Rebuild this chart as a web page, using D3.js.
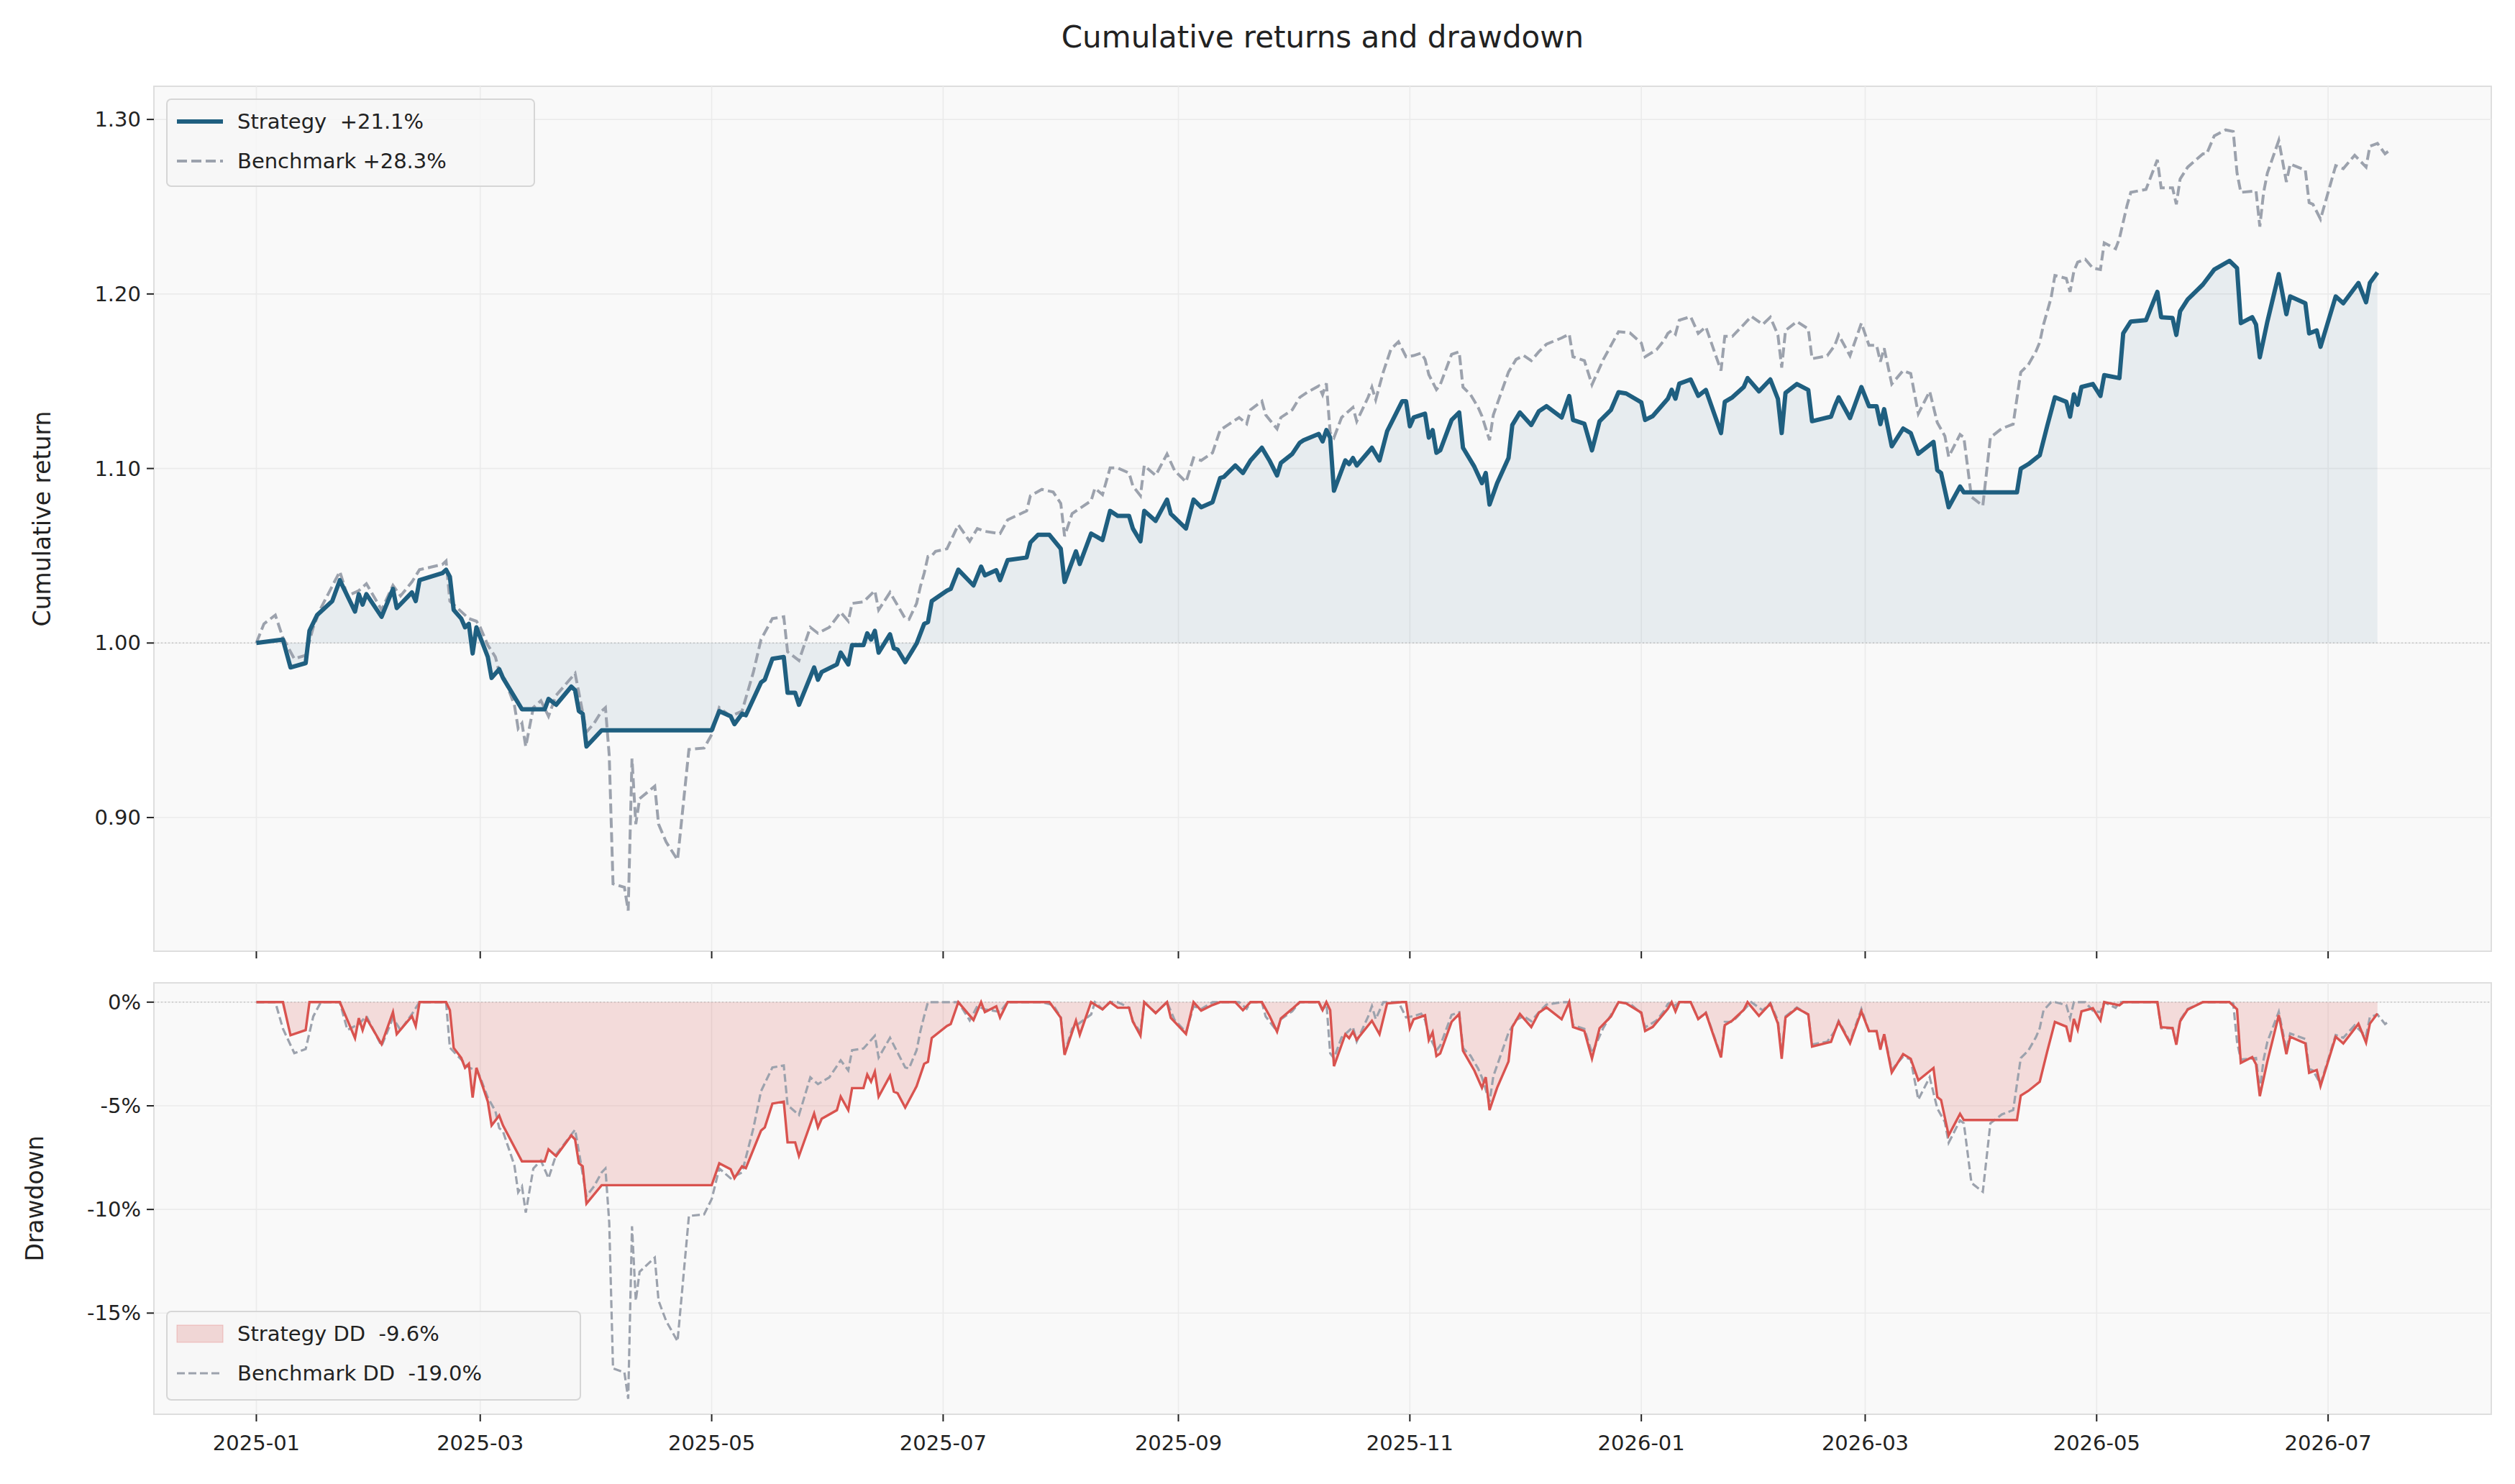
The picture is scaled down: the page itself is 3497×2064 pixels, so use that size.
<!DOCTYPE html>
<html><head><meta charset="utf-8">
<script src="https://cdn.jsdelivr.net/npm/d3@7"></script>
<style>body{margin:0;background:#fff;font-family:"DejaVu Sans",sans-serif}text{white-space:pre}</style>
</head><body><svg id="c" width="3497" height="2064"></svg>
<script>
const startDate = "2025-01-01";
const stratDays = [0,7,9,13,14,16,20,22,26,27,28,29,33,36,37,41,42,43,49,50,51,52,54,55,56,57,58,61,62,64,65,70,76,77,79,83,84,85,86,87,91,120,122,125,126,128,129,133,134,136,139,140,142,143,147,148,149,153,154,156,157,160,161,162,163,164,167,168,169,171,174,176,177,178,182,183,185,189,191,192,195,196,198,203,204,206,209,212,213,216,217,220,223,225,227,230,231,233,234,237,240,241,245,247,249,252,254,255,258,260,262,265,267,269,270,273,275,276,280,281,282,283,284,287,288,289,290,294,296,298,302,303,304,305,308,309,310,311,312,315,317,318,321,323,324,325,327,330,331,333,336,338,340,344,346,347,350,352,354,357,359,361,365,366,368,372,373,374,375,378,380,382,386,387,389,392,393,396,399,401,402,403,406,409,410,415,416,417,420,423,425,427,428,429,431,434,436,438,442,443,444,446,449,450,464,465,467,470,472,474,477,478,479,480,481,484,486,487,491,492,494,498,501,502,505,506,507,509,513,516,520,522,523,526,527,528,530,533,535,536,540,541,543,544,548,550,554,556,557,559];
const stratVals = [1.000,1.002,0.986,0.9885,1.007,1.016,1.024,1.036,1.018,1.028,1.022,1.028,1.015,1.031,1.020,1.029,1.024,1.036,1.040,1.042,1.038,1.019,1.014,1.009,1.011,0.994,1.009,0.992,0.980,0.985,0.980,0.962,0.962,0.968,0.9646,0.975,0.973,0.961,0.9595,0.9407,0.950,0.950,0.961,0.958,0.9535,0.9595,0.9586,0.9774,0.979,0.991,0.992,0.9715,0.9715,0.9646,0.986,0.979,0.9834,0.9877,0.9945,0.9877,0.9988,0.9988,1.0056,1.002,1.007,0.9945,1.005,0.997,0.9962,0.989,0.9997,1.011,1.012,1.024,1.030,1.031,1.042,1.033,1.0438,1.0388,1.0417,1.036,1.0475,1.049,1.0576,1.062,1.062,1.054,1.035,1.0525,1.0453,1.0627,1.059,1.0757,1.0728,1.0728,1.0656,1.0583,1.0757,1.070,1.0822,1.074,1.0656,1.0822,1.0778,1.0807,1.0945,1.0952,1.1017,1.0974,1.1046,1.1119,1.1046,1.096,1.1032,1.1083,1.1148,1.1162,1.1198,1.1155,1.122,1.1177,1.0873,1.1046,1.1025,1.106,1.1017,1.1119,1.1046,1.1213,1.1386,1.1386,1.1242,1.1292,1.1314,1.1177,1.122,1.109,1.1104,1.1278,1.1321,1.1119,1.101,1.0916,1.0974,1.0793,1.0916,1.106,1.1249,1.1321,1.1249,1.1328,1.1357,1.1292,1.1415,1.1278,1.1256,1.1104,1.1271,1.1336,1.1437,1.143,1.1379,1.1278,1.13,1.140,1.1451,1.140,1.1486,1.151,1.1416,1.145,1.1203,1.1382,1.1408,1.1467,1.1518,1.1442,1.151,1.1399,1.1203,1.1433,1.1484,1.145,1.1271,1.1297,1.1357,1.1408,1.1289,1.1467,1.1357,1.1357,1.1254,1.134,1.1127,1.1229,1.1203,1.1084,1.1152,1.0991,1.0974,1.0778,1.0897,1.0863,1.0863,1.0999,1.1025,1.1076,1.1246,1.1408,1.1382,1.1297,1.1425,1.1365,1.1467,1.1484,1.1416,1.1535,1.1518,1.1774,1.1842,1.185,1.2012,1.1867,1.1862,1.1765,1.1901,1.1969,1.2054,1.214,1.219,1.2148,1.1833,1.1867,1.1825,1.1637,1.1842,1.2114,1.1884,1.1986,1.1947,1.1774,1.1791,1.1697,1.1986,1.1947,1.2063,1.1952,1.2063,1.2123];
const benchDays = [0,2,5,7,10,13,15,17,22,24,27,29,33,36,38,41,43,49,50,51,56,58,59,61,63,64,65,68,69,70,71,73,75,77,79,84,85,87,89,91,92,93,94,97,98,99,100,101,105,106,108,111,114,118,120,122,125,128,131,133,136,139,140,143,146,148,151,154,156,157,160,163,164,167,171,172,174,175,176,177,178,179,182,185,188,190,192,196,198,203,204,207,210,212,213,215,220,221,223,225,227,230,231,233,234,237,240,242,245,247,249,252,254,256,259,261,262,265,266,269,270,273,275,277,280,281,282,283,284,286,289,290,293,294,295,297,299,301,303,305,307,308,309,311,312,315,317,318,320,322,323,325,326,330,332,334,336,338,340,344,346,347,350,352,355,359,362,365,366,369,371,372,373,374,375,378,380,382,386,387,389,392,394,397,399,401,402,403,406,409,410,414,416,417,420,423,425,427,428,429,431,434,436,438,441,443,445,446,449,450,452,455,457,460,463,465,467,469,470,471,473,474,477,478,479,480,482,484,486,487,490,491,493,494,498,501,502,505,506,507,509,513,514,516,519,521,522,523,527,528,529,530,533,535,536,540,541,542,544,548,550,553,556,557,559,561,562];
const benchVals = [1.000,1.011,1.016,1.003,0.991,0.993,1.009,1.020,1.041,1.027,1.030,1.034,1.019,1.033,1.027,1.035,1.042,1.045,1.047,1.024,1.014,1.0125,1.009,0.9988,0.992,0.9834,0.9817,0.9646,0.951,0.954,0.9407,0.963,0.967,0.958,0.970,0.9826,0.9715,0.949,0.954,0.961,0.963,0.9356,0.862,0.860,0.8467,0.9338,0.8962,0.9108,0.918,0.8962,0.886,0.8757,0.939,0.9398,0.9475,0.963,0.958,0.961,0.9834,1.002,1.014,1.015,0.995,0.990,1.009,1.0056,1.009,1.0176,1.0125,1.0227,1.0236,1.030,1.019,1.029,1.014,1.0135,1.0227,1.0323,1.040,1.0496,1.050,1.0525,1.054,1.0677,1.0583,1.0656,1.064,1.0627,1.0706,1.0757,1.0844,1.088,1.0865,1.080,1.0612,1.0742,1.0815,1.0887,1.085,1.1003,1.1003,1.0974,1.090,1.0844,1.1017,1.096,1.1083,1.0988,1.0923,1.1061,1.1046,1.109,1.122,1.1249,1.1292,1.1256,1.1336,1.1386,1.1307,1.1227,1.1292,1.1336,1.1408,1.1437,1.1473,1.1423,1.1488,1.1205,1.1177,1.1292,1.135,1.127,1.1408,1.1466,1.1394,1.1553,1.1683,1.1726,1.164,1.1647,1.1661,1.1625,1.1538,1.1452,1.148,1.1654,1.1669,1.1466,1.1423,1.135,1.13,1.1162,1.1307,1.1553,1.1625,1.1647,1.1618,1.1669,1.1712,1.1748,1.177,1.164,1.1618,1.148,1.1625,1.1784,1.1777,1.1719,1.164,1.168,1.1734,1.1774,1.179,1.177,1.185,1.187,1.1774,1.1811,1.1561,1.1757,1.1757,1.1825,1.1872,1.1825,1.1867,1.1765,1.1578,1.1791,1.1842,1.18,1.1629,1.1646,1.1706,1.1765,1.1646,1.1833,1.1706,1.1706,1.1612,1.1689,1.1484,1.1561,1.1544,1.1314,1.1442,1.1263,1.1186,1.1067,1.1195,1.1178,1.0837,1.0786,1.1178,1.1229,1.1254,1.1552,1.1595,1.1671,1.1723,1.1825,1.1978,1.2106,1.2089,1.2012,1.2131,1.2182,1.2199,1.2148,1.214,1.2293,1.2259,1.2318,1.2506,1.2582,1.2599,1.2769,1.2608,1.2608,1.2514,1.2659,1.2727,1.2803,1.2803,1.2906,1.294,1.2931,1.2693,1.2582,1.2591,1.2386,1.2582,1.2693,1.288,1.2642,1.2744,1.271,1.2523,1.2514,1.2429,1.2735,1.2718,1.2795,1.2727,1.2846,1.2863,1.2803,1.282];
const topTicks = [0.90,1.00,1.10,1.20,1.30];
const ddTicks = [0,-5,-10,-15];
const xTickMonths = ["2025-01","2025-03","2025-05","2025-07","2025-09","2025-11","2026-01","2026-03","2026-05","2026-07"];
const legendTop = ["Strategy  +21.1%","Benchmark +28.3%"];
const legendDD = ["Strategy DD  -9.6%","Benchmark DD  -19.0%"];
const titleText = "Cumulative returns and drawdown";

const parse = d3.timeParse("%Y-%m-%d"), pm = d3.timeParse("%Y-%m");
const t0 = parse(startDate);
const mk = (days, vals) => days.map((d,i)=>({date:d3.timeDay.offset(t0,d), v:vals[i]}));
const strat = mk(stratDays, stratVals), bench = mk(benchDays, benchVals);
const dd = s => { let m=-Infinity; return s.map(p=>{m=Math.max(m,p.v); return {date:p.date, v:(p.v/m-1)*100};}); };
const sDD = dd(strat), bDD = dd(bench);

const svg = d3.select("#c");
const L=214,R=3464,T1=120,B1=1323,T2=1367,B2=1967;
const C_S="#1f5f80", C_B="#9ca2ad", C_R="#d9534f", FS=29;
const x = d3.scaleTime().domain([parse("2024-12-05"), parse("2026-08-13")]).range([L,R]);
const y1 = d3.scaleLinear().domain([0.8234,1.319]).range([B1,T1]);
const y2 = d3.scaleLinear().domain([-19.88,0.93]).range([B2,T2]);

svg.append("text").attr("x",(L+R)/2).attr("y",66).attr("text-anchor","middle").attr("font-size",42).attr("fill","#222").text(titleText);

function panel(top,bot,y,ticks,fmt){
  const g=svg.append("g");
  g.append("rect").attr("x",L).attr("y",top).attr("width",R-L).attr("height",bot-top).attr("fill","#f9f9f9").attr("stroke","#dedede").attr("stroke-width",2);
  xTickMonths.forEach(m=>{const xx=x(pm(m));
    g.append("line").attr("x1",xx).attr("x2",xx).attr("y1",top).attr("y2",bot).attr("stroke","#ebebeb").attr("stroke-width",1.6);
    g.append("line").attr("x1",xx).attr("x2",xx).attr("y1",bot).attr("y2",bot+10).attr("stroke","#222").attr("stroke-width",2);});
  ticks.forEach(t=>{const yy=y(t);
    g.append("line").attr("x1",L).attr("x2",R).attr("y1",yy).attr("y2",yy).attr("stroke","#ebebeb").attr("stroke-width",1.6);
    g.append("line").attr("x1",L-10).attr("x2",L).attr("y1",yy).attr("y2",yy).attr("stroke","#222").attr("stroke-width",2);
    g.append("text").attr("x",L-18).attr("y",yy).attr("dy","0.35em").attr("text-anchor","end").attr("font-size",FS).attr("fill","#222").text(fmt(t));});
  return g;
}
panel(T1,B1,y1,topTicks,d3.format(".2f"));
panel(T2,B2,y2,ddTicks,t=>t+"%");

svg.append("line").attr("x1",L).attr("x2",R).attr("y1",y1(1)).attr("y2",y1(1)).attr("stroke","#c8c8c8").attr("stroke-width",1.5).attr("stroke-dasharray","2,3");
svg.append("line").attr("x1",L).attr("x2",R).attr("y1",y2(0)).attr("y2",y2(0)).attr("stroke","#c8c8c8").attr("stroke-width",1.5).attr("stroke-dasharray","2,3");

svg.append("path").datum(strat).attr("d",d3.area().x(d=>x(d.date)).y0(y1(1)).y1(d=>y1(d.v))).attr("fill",C_S).attr("fill-opacity",0.08);
svg.append("path").datum(bench).attr("d",d3.line().x(d=>x(d.date)).y(d=>y1(d.v))).attr("fill","none").attr("stroke",C_B).attr("stroke-width",4).attr("stroke-dasharray","14,6");
svg.append("path").datum(strat).attr("d",d3.line().x(d=>x(d.date)).y(d=>y1(d.v))).attr("fill","none").attr("stroke",C_S).attr("stroke-width",6).attr("stroke-linejoin","round");

svg.append("path").datum(sDD).attr("d",d3.area().x(d=>x(d.date)).y0(y2(0)).y1(d=>y2(d.v))).attr("fill",C_R).attr("fill-opacity",0.18);
svg.append("path").datum(bDD).attr("d",d3.line().x(d=>x(d.date)).y(d=>y2(d.v))).attr("fill","none").attr("stroke",C_B).attr("stroke-width",3.2).attr("stroke-dasharray","11,5");
svg.append("path").datum(sDD).attr("d",d3.line().x(d=>x(d.date)).y(d=>y2(d.v))).attr("fill","none").attr("stroke",C_R).attr("stroke-width",3.4);

xTickMonths.forEach(m=>svg.append("text").attr("x",x(pm(m))).attr("y",B2+50).attr("text-anchor","middle").attr("font-size",FS).attr("fill","#222").text(m));

svg.append("text").attr("transform",`translate(70,${(T1+B1)/2}) rotate(-90)`).attr("text-anchor","middle").attr("font-size",33).attr("fill","#222").text("Cumulative return");
svg.append("text").attr("transform",`translate(60,${(T2+B2)/2}) rotate(-90)`).attr("text-anchor","middle").attr("font-size",33).attr("fill","#222").text("Drawdown");

function legend(x0,y0,w,h,items){
  svg.append("rect").attr("x",x0).attr("y",y0).attr("width",w).attr("height",h).attr("rx",6).attr("fill","#f6f6f6").attr("fill-opacity",0.9).attr("stroke","#d6d6d6").attr("stroke-width",2);
  items.forEach((it,i)=>{const yy=y0+31+i*55;
    if(it.patch) svg.append("rect").attr("x",x0+14).attr("y",yy-12).attr("width",64).attr("height",24).attr("fill",C_R).attr("fill-opacity",0.2).attr("stroke",C_R).attr("stroke-opacity",0.3);
    else svg.append("line").attr("x1",x0+14).attr("x2",x0+78).attr("y1",yy).attr("y2",yy).attr("stroke",it.c).attr("stroke-width",it.w).attr("stroke-dasharray",it.dash||null);
    svg.append("text").attr("x",x0+98).attr("y",yy).attr("dy","0.35em").attr("font-size",FS).attr("fill","#222").text(it.t);});
}
legend(232,138,511,121,[{t:legendTop[0],c:C_S,w:6},{t:legendTop[1],c:C_B,w:4,dash:"14,6"}]);
legend(232,1824,575,123,[{t:legendDD[0],patch:true},{t:legendDD[1],c:C_B,w:3.2,dash:"11,5"}]);
</script></body></html>
